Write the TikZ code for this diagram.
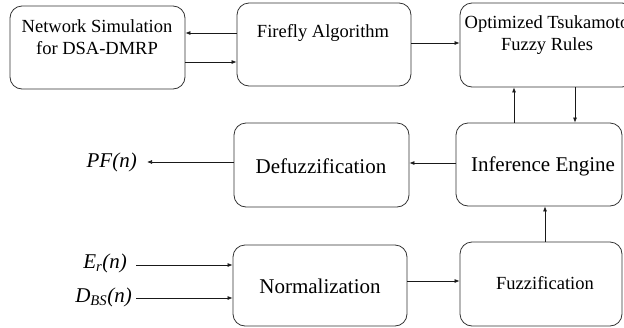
\documentclass[tikz,border=0pt]{standalone}
\usepackage{fontspec}
\setmainfont{Liberation Serif}
\usetikzlibrary{arrows.meta}
\begin{document}
\begin{tikzpicture}[x=1pt,y=-1pt,
  box/.style={draw=black!80,line width=0.8pt,rounded corners=12pt,minimum width=#1,inner sep=0pt},
  txtS/.style={font=\fontsize{18.5}{22}\selectfont,align=center,inner sep=0pt},
  txtL/.style={font=\fontsize{21}{25}\selectfont,align=center,inner sep=0pt},
  txtM/.style={font=\fontsize{21}{25}\selectfont\itshape,inner sep=0pt},
  arr/.style={draw=black!90,line width=0.7pt,-{Latex[length=5pt,width=4pt]}}]
\useasboundingbox (0,0) rectangle (624,327);
\begin{scope}
\clip (0,0) rectangle (624,327);
\node[box=175pt,minimum height=83pt] (sim) at (97.5,47.5) {};
\node[box=174pt,minimum height=83pt] (ffa) at (324,44.5) {};
\node[box=174pt,minimum height=84pt] (opt) at (547,45) {};
\node[box=166pt,minimum height=83pt] (inf) at (539,164.5) {};
\node[box=175pt,minimum height=84pt] (def) at (321.5,165) {};
\node[box=174pt,minimum height=81pt] (nor) at (320,285.5) {};
\node[box=162pt,minimum height=84pt] (fuz) at (541,284) {};
\end{scope}
\node[txtS] (simt) at (97,37) {Network Simulation\\for DSA-DMRP};
\node[txtS] (ffat) at (323,33) {Firefly Algorithm};
\node[txtS] (optt) at (547,35) {Optimized Tsukamoto\\Fuzzy Rules};
\node[txtL] (inft) at (543,166) {Inference Engine};
\node[txtL] (deft) at (321,166) {Defuzzification};
\node[txtL] (nort) at (320,286) {Normalization};
\node[txtS] (fuzt) at (545,283) {Fuzzification};
\node[txtM,anchor=east] (pf) at (137,162) {PF(n)};
\node[txtM,anchor=east] (er) at (127,263) {E\textsubscript{r}(n)};
\node[txtM,anchor=east] (dbs) at (132,297) {D\textsubscript{BS}(n)};
\draw[arr] (ffa.west |- 0,33) -- (sim.east |- 0,33);
\draw[arr] (sim.east |- 0,62) -- (ffa.west |- 0,62);
\draw[arr] (ffa.east |- 0,43) -- (opt.west |- 0,43);
\draw[arr] (opt.south -| 575,0) -- (inf.north -| 575,0);
\draw[arr] (inf.north -| 514,0) -- (opt.south -| 514,0);
\draw[arr] (inf.west |- 0,163) -- (def.east |- 0,163);
\draw[arr] (def.west |- 0,162) -- (147,162);
\draw[arr] (136,265) -- (nor.west |- 0,265);
\draw[arr] (136,298) -- (nor.west |- 0,298);
\draw[arr] (nor.east |- 0,281) -- (fuz.west |- 0,281);
\draw[arr] (fuz.north -| 545,0) -- (inf.south -| 545,0);
\end{tikzpicture}
\end{document}
